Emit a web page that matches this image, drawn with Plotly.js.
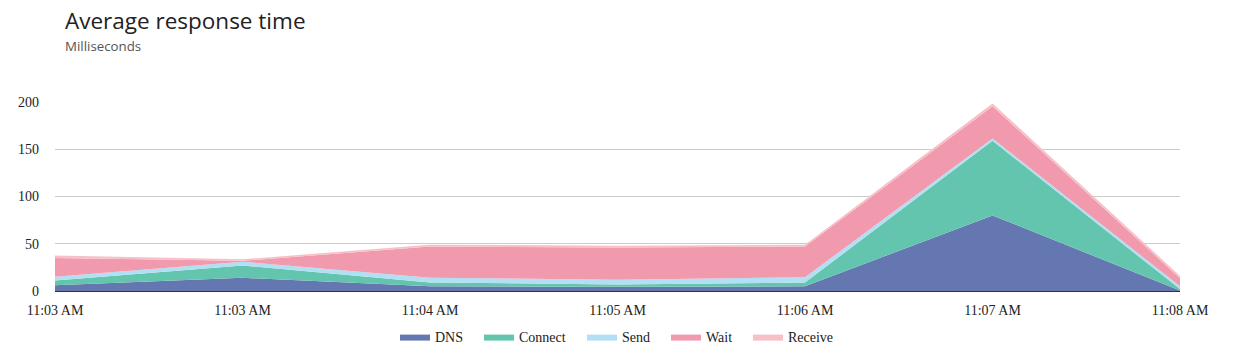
<!DOCTYPE html>
<html>
<head>
<meta charset="utf-8">
<script src="https://cdn.plot.ly/plotly-3.0.1.min.js"></script>
<style>
html,body{margin:0;padding:0;background:#fff;}
#chart{width:1237px;height:357px;}
</style>
</head>
<body>
<div id="chart"></div>
<script>
var tickLabels = ["11:03 AM", "11:03 AM", "11:04 AM", "11:05 AM", "11:06 AM", "11:07 AM", "11:08 AM"];
var xIndex = [0, 1, 2, 3, 4, 5, 6];
var seriesNames = ["DNS", "Connect", "Send", "Wait", "Receive"];
var seriesColors = ["#6577b1", "#63c5ad", "#b1dff3", "#f19aae", "#f7bfc7"];
var dns     = [6, 14, 5, 4.5, 5, 80, 0.5];
var connect = [5, 13, 4, 2.5, 4, 79, 1.5];
var send    = [4, 4, 5, 5, 5.5, 2.5, 3];
var wait    = [20, 1, 33, 34, 32.5, 34, 8.5];
var receive = [2.5, 1.5, 2, 2, 2, 3, 2.5];
var seriesValues = [dns, connect, send, wait, receive];

// left pixel of each legend swatch in the picture
var legendLeft = [401, 485, 588, 672, 754];
var legendIds = ["legend", "legend2", "legend3", "legend4", "legend5"];

var traces = seriesValues.map(function (vals, i) {
  return {
    type: "scatter",
    mode: "lines",
    x: xIndex,
    y: vals,
    name: seriesNames[i],
    stackgroup: "one",
    legend: legendIds[i],
    line: {width: 0, color: seriesColors[i]},
    fillcolor: seriesColors[i],
    hoveron: "points"
  };
});

var serif = "Liberation Serif, Times New Roman, serif";
var layout = {
  width: 1237,
  height: 357,
  margin: {l: 55, r: 57, t: 102, b: 66, autoexpand: false},
  paper_bgcolor: "#fff",
  plot_bgcolor: "#fff",
  title: {
    text: "Average response time",
    font: {family: "Open Sans, sans-serif", size: 22.5, color: "#222"},
    xref: "container", yref: "container",
    x: 65 / 1237, xanchor: "left",
    y: 1 - 21 / 357, yanchor: "middle",
    automargin: false
  },
  annotations: [{
    text: "Milliseconds",
    xref: "paper", yref: "paper",
    x: 8 / 1125, xanchor: "left",
    y: (291 - 46) / 189, yanchor: "middle",
    showarrow: false,
    font: {family: "Open Sans, sans-serif", size: 13.3, color: "#555"}
  }],
  xaxis: {
    range: [0, 6],
    tickvals: xIndex,
    ticktext: tickLabels,
    showgrid: false,
    zeroline: false,
    showline: true,
    linecolor: "#333",
    linewidth: 1,
    ticks: "",
    ticklabelstandoff: 6,
    automargin: false,
    tickfont: {family: serif, size: 14, color: "#222"},
    fixedrange: true
  },
  yaxis: {
    range: [0, 200],
    tickvals: [0, 50, 100, 150, 200],
    showgrid: true,
    gridcolor: "#cccccc",
    gridwidth: 1,
    zeroline: false,
    ticks: "",
    ticklabelstandoff: 15,
    automargin: false,
    tickfont: {family: serif, size: 14, color: "#222"},
    fixedrange: true
  },
  showlegend: true,
  hovermode: "x"
};

legendIds.forEach(function (id, i) {
  layout[id] = {
    orientation: "h",
    xref: "container", yref: "container",
    x: (legendLeft[i] - 6) / 1237, xanchor: "left",
    y: 1 - 337 / 357, yanchor: "middle",
    font: {family: serif, size: 14, color: "#222"},
    bgcolor: "rgba(0,0,0,0)",
    itemclick: false
  };
});

Plotly.newPlot("chart", traces, layout, {displayModeBar: false});
</script>
</body>
</html>
